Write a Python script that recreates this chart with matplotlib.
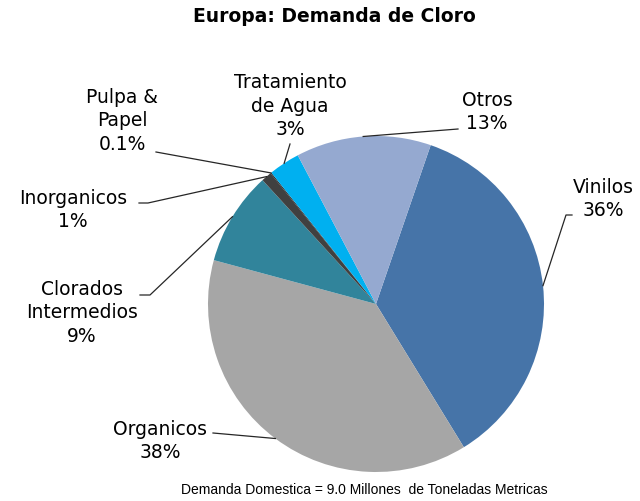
import numpy as np
import matplotlib
matplotlib.use("Agg")
import matplotlib.pyplot as plt

categories = ["Vinilos", "Organicos", "Clorados\nIntermedios", "Inorganicos",
              "Pulpa &\nPapel", "Tratamiento\nde Agua", "Otros"]
shares = [36, 38, 9, 1, 0.1, 3, 13]
pct_labels = ["36%", "38%", "9%", "1%", "0.1%", "3%", "13%"]
colors = ["#4674a8", "#a6a6a6", "#31849b", "#404040", "#262626", "#00b0f0", "#95a9d0"]

# label layout (pixels, y from top): text centre, leader elbow points
label_pos = [(603, 199), (160, 441), (82, 313), (73, 210), (122, 121), (290, 106), (487, 112)]
elbows = [[(566, 216), (572, 216)], [(213, 434)], [(150, 296), (140, 296)],
          [(148, 204), (139, 204)], [(156, 153)], [(290, 145)], [(458, 130)]]

W, H = 640, 502
fig = plt.figure(figsize=(6.4, 5.02), dpi=100)
ax = fig.add_axes([0, 0, 1, 1])

cx, cy, r = 376, H - 305, 168
wedges, _ = ax.pie(shares, colors=colors, startangle=71, counterclock=False,
                   center=(cx, cy), radius=r, normalize=True, frame=True,
                   wedgeprops=dict(linewidth=0))
ax.set_xlim(0, W)
ax.set_ylim(0, H)
ax.set_aspect("equal")
ax.axis("off")

for w, cat, pct, (tx, ty), elb in zip(wedges, categories, pct_labels, label_pos, elbows):
    a = np.deg2rad((w.theta1 + w.theta2) / 2)
    px, py = cx + r * np.cos(a), cy + r * np.sin(a)
    xs = [px] + [e[0] for e in elb]
    ys = [py] + [H - e[1] for e in elb]
    ax.plot(xs, ys, color="#262626", lw=0.9)
    ax.text(tx, H - ty, cat + "\n" + pct, ha="center", va="center",
            fontsize=13.5, family="DejaVu Sans", linespacing=1.28, color="black")

fig.text(0.522, 1 - 17 / H, "Europa: Demanda de Cloro", ha="center", va="center",
         fontsize=13.5, fontweight="bold", family="DejaVu Sans")
fig.text(0.57, 1 - 490 / H, "Demanda Domestica = 9.0 Millones  de Toneladas Metricas",
         ha="center", va="center", fontsize=10, family="Liberation Sans")

fig.savefig("out.png", dpi=100)
